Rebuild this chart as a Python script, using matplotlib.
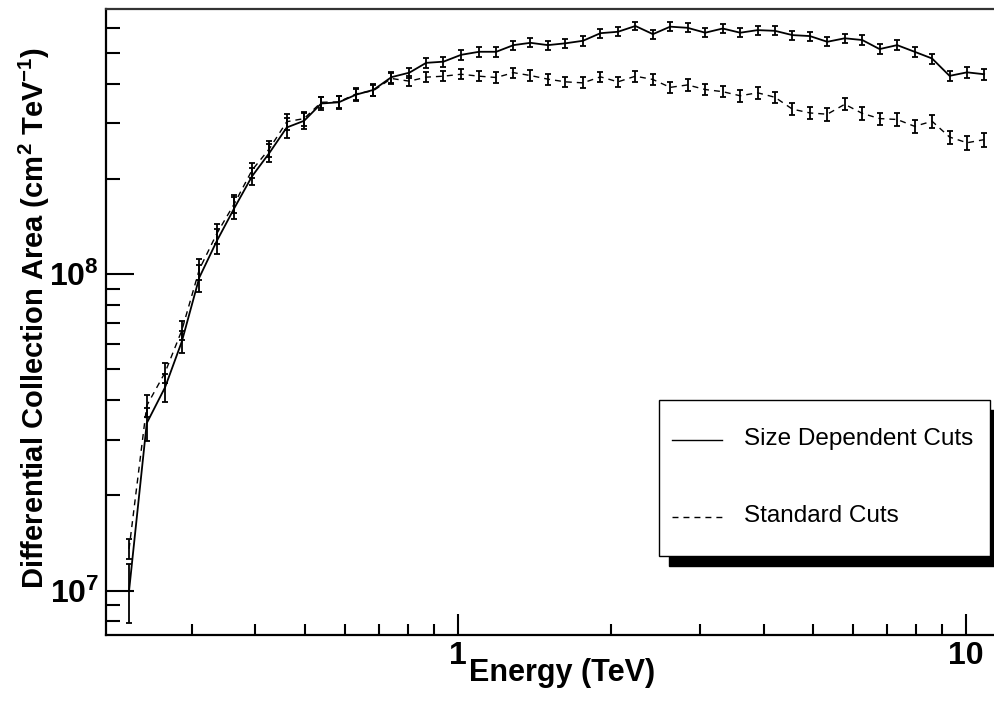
import matplotlib
matplotlib.use("Agg")
import matplotlib.pyplot as plt
from matplotlib.ticker import FixedLocator, NullFormatter, FixedFormatter
from matplotlib.patches import Rectangle
from matplotlib.lines import Line2D

plt.rcParams["font.family"] = ["Liberation Sans", "DejaVu Sans"]
plt.rcParams["mathtext.fontset"] = "custom"
plt.rcParams["mathtext.rm"] = "Liberation Sans:bold"
plt.rcParams["mathtext.bf"] = "Liberation Sans:bold"
plt.rcParams["mathtext.it"] = "Liberation Sans:bold"

# Bin centres (TeV)
energy = [0.2256, 0.2444, 0.2656, 0.2865, 0.3102, 0.3357, 0.3636, 0.3939, 0.4261, 0.4610,
          0.4986, 0.5391, 0.5835, 0.6313, 0.6828, 0.7407, 0.8036, 0.8670, 0.9376, 1.016,
          1.102, 1.191, 1.288, 1.391, 1.505, 1.629, 1.765, 1.910, 2.068, 2.238,
          2.423, 2.620, 2.835, 3.071, 3.324, 3.598, 3.893, 4.212, 4.559, 4.935,
          5.339, 5.780, 6.256, 6.767, 7.328, 7.932, 8.585, 9.293, 10.06, 10.87]

# Collection area, size dependent cuts (units of 1e8 cm^2 TeV^-1)
area_size = [0.100, 0.338, 0.439, 0.612, 0.976, 1.272, 1.618, 2.038, 2.415, 2.906,
             3.05, 3.46, 3.49, 3.69, 3.82, 4.19, 4.33, 4.65, 4.69, 4.93,
             5.04, 5.04, 5.29, 5.38, 5.29, 5.36, 5.46, 5.77, 5.83, 6.08,
             5.73, 6.05, 6.00, 5.79, 5.97, 5.79, 5.90, 5.87, 5.69, 5.65,
             5.42, 5.56, 5.49, 5.14, 5.29, 5.04, 4.80, 4.23, 4.34, 4.28]
err_size = [0.021, 0.040, 0.045, 0.050, 0.095, 0.113, 0.130, 0.128, 0.160, 0.210,
            0.180, 0.160, 0.160, 0.160, 0.160, 0.160, 0.160, 0.165, 0.170, 0.170,
            0.175, 0.175, 0.180, 0.180, 0.180, 0.180, 0.185, 0.190, 0.190, 0.195,
            0.190, 0.195, 0.195, 0.190, 0.195, 0.190, 0.190, 0.190, 0.185, 0.185,
            0.180, 0.185, 0.185, 0.180, 0.185, 0.180, 0.175, 0.165, 0.170, 0.170]

# Collection area, standard cuts (units of 1e8 cm^2 TeV^-1)
area_std = [0.1355, 0.384, 0.489, 0.664, 1.035, 1.342, 1.670, 2.130, 2.490, 3.030,
            3.10, 3.49, 3.50, 3.71, 3.80, 4.15, 4.07, 4.19, 4.22, 4.28,
            4.22, 4.18, 4.33, 4.24, 4.13, 4.05, 4.02, 4.20, 4.05, 4.22,
            4.12, 3.89, 3.96, 3.83, 3.77, 3.66, 3.74, 3.62, 3.32, 3.23,
            3.20, 3.44, 3.22, 3.10, 3.08, 2.93, 3.04, 2.71, 2.60, 2.66]
err_std = [0.010, 0.030, 0.035, 0.045, 0.080, 0.100, 0.110, 0.120, 0.140, 0.180,
           0.160, 0.150, 0.150, 0.150, 0.150, 0.155, 0.155, 0.155, 0.155, 0.160,
           0.160, 0.160, 0.160, 0.160, 0.160, 0.160, 0.160, 0.160, 0.160, 0.165,
           0.160, 0.155, 0.160, 0.155, 0.155, 0.150, 0.155, 0.150, 0.145, 0.145,
           0.145, 0.150, 0.145, 0.140, 0.140, 0.135, 0.140, 0.130, 0.125, 0.130]

series_labels = ["Size Dependent Cuts", "Standard Cuts"]
x_ticks = [1, 10]
x_tick_labels = ["1", "10"]
y_ticks = [1e7, 1e8]
y_tick_labels = [r"$\mathbf{10^{7}}$", r"$\mathbf{10^{8}}$"]

scale = 1e8
W, H = 994, 709
fig = plt.figure(figsize=(W / 100, H / 100), dpi=100)
# the frame runs a little past the right edge of the canvas
ax_l, ax_r, ax_t, ax_b = 106, 1000, 9, 635
ax = fig.add_axes([ax_l / W, 1 - ax_b / H, (ax_r - ax_l) / W, (ax_b - ax_t) / H])
ax.set_xscale("log")
ax.set_yscale("log")
ax.set_xlim(0.2032, 11.68)
ax.set_ylim(7.24e6, 6.88e8)

ys = [v * scale for v in area_size]
es = [v * scale for v in err_size]
yd = [v * scale for v in area_std]
ed = [v * scale for v in err_std]

ax.errorbar(energy, ys, yerr=es, color="black", lw=1.3, elinewidth=1.3,
            capsize=2.3, capthick=1.3, marker="none")
eb = ax.errorbar(energy, yd, yerr=ed, color="black", lw=1.0, elinewidth=1.3,
                 capsize=2.3, capthick=1.3, marker="none")
eb.lines[0].set_dashes([4.3, 3.6])

# axes frame and ticks
for side in ["left", "bottom", "top", "right"]:
    ax.spines[side].set_linewidth(1.6)
ax.spines["top"].set_color("#333333")

ax.xaxis.set_major_locator(FixedLocator(x_ticks))
ax.xaxis.set_major_formatter(FixedFormatter(x_tick_labels))
ax.xaxis.set_minor_locator(FixedLocator([0.3, 0.4, 0.5, 0.6, 0.7, 0.8, 0.9,
                                         2, 3, 4, 5, 6, 7, 8, 9]))
ax.xaxis.set_minor_formatter(NullFormatter())
ax.yaxis.set_major_locator(FixedLocator(y_ticks))
ax.yaxis.set_major_formatter(FixedFormatter(y_tick_labels))
ax.yaxis.set_minor_locator(FixedLocator([8e6, 9e6] + [k * 1e7 for k in range(2, 10)]
                                        + [k * 1e8 for k in range(2, 7)]))
ax.yaxis.set_minor_formatter(NullFormatter())

ax.tick_params(axis="x", which="major", direction="in", length=15, width=1.5,
               labelsize=23, pad=4, top=False)
ax.tick_params(axis="x", which="minor", direction="in", length=8, width=1.5, top=False)
ax.tick_params(axis="y", which="major", direction="in", length=20, width=1.5,
               labelsize=23, pad=5, right=False)
ax.tick_params(axis="y", which="minor", direction="in", length=10, width=1.5, right=False)
for lab in ax.get_xticklabels():
    lab.set_fontweight("bold")

# axis titles
fig.text(562 / W, 1 - 673 / H, "Energy (TeV)", ha="center", va="center",
         fontsize=22, fontweight="bold")
fig.text(34 / W, 1 - 318 / H,
         r"Differential Collection Area (cm$^{2}$ TeV$^{-1}$)",
         ha="center", va="center", rotation=90, fontsize=21, fontweight="bold")

# legend box with drop shadow
lx0, lx1, ly0, ly1 = 659, 990, 400, 556
sh = 10
fig.patches.append(Rectangle(((lx0 + sh) / W, 1 - (ly1 + sh) / H), (lx1 - lx0) / W,
                             (ly1 - ly0) / H, transform=fig.transFigure,
                             facecolor="black", edgecolor="black", zorder=5))
fig.patches.append(Rectangle((lx0 / W, 1 - ly1 / H), (lx1 - lx0) / W, (ly1 - ly0) / H,
                             transform=fig.transFigure, facecolor="white",
                             edgecolor="black", lw=1.0, zorder=6))
fig.lines.append(Line2D([672 / W, 722 / W], [1 - 440 / H, 1 - 440 / H],
                        transform=fig.transFigure, color="black", lw=1.0, zorder=7))
dash_line = Line2D([672 / W, 722 / W], [1 - 517 / H, 1 - 517 / H],
                   transform=fig.transFigure, color="black", lw=1.0, zorder=7)
dash_line.set_dashes([4.3, 3.6])
fig.lines.append(dash_line)
fig.text(744 / W, 1 - 439 / H, series_labels[0], ha="left", va="center",
         fontsize=17.5, zorder=8)
fig.text(744 / W, 1 - 516 / H, series_labels[1], ha="left", va="center",
         fontsize=17.5, zorder=8)

fig.savefig("out.png", dpi=100)
